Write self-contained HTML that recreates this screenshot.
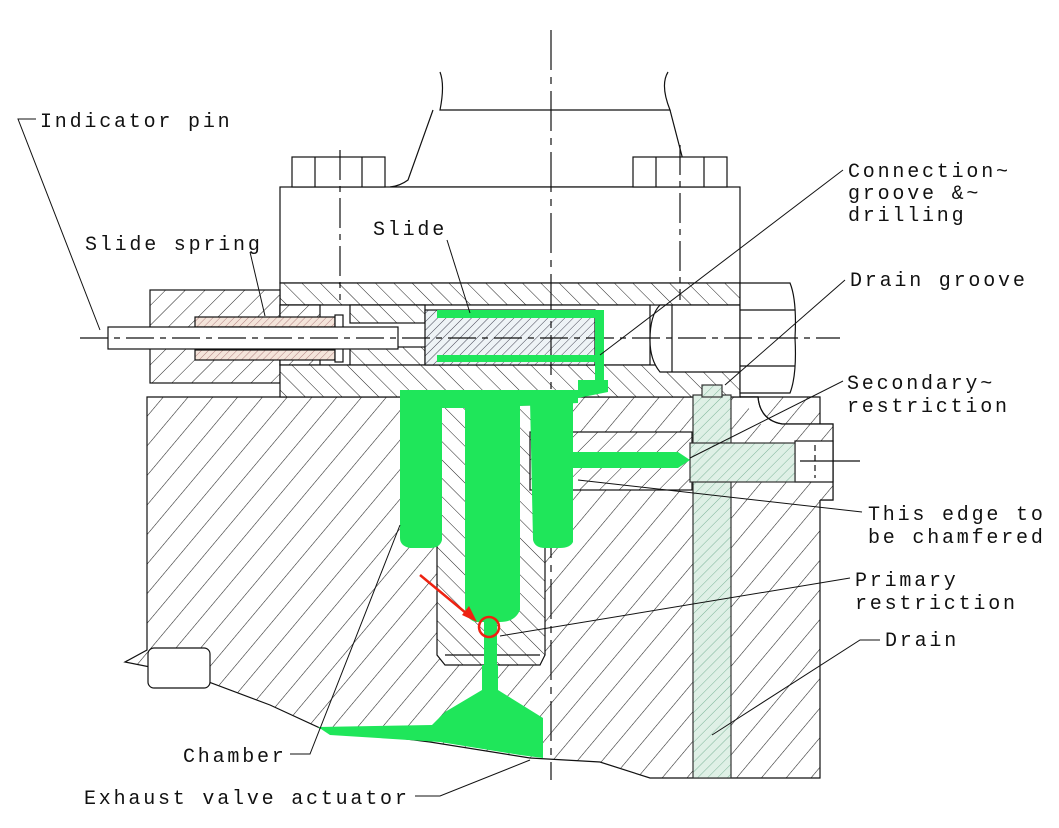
<!DOCTYPE html>
<html><head><meta charset="utf-8"><style>
html,body{margin:0;padding:0;background:#fff}
svg{display:block}
text{font-family:"Liberation Mono",monospace;font-size:20px;letter-spacing:2.8px;fill:#111}
</style></head><body>
<svg width="1059" height="828" viewBox="0 0 1059 828" xmlns="http://www.w3.org/2000/svg">
<defs>
<pattern id="hb" patternUnits="userSpaceOnUse" width="19" height="19" patternTransform="rotate(40)">
<rect width="19" height="19" fill="#fff"/><line x1="0" y1="0" x2="0" y2="19" stroke="#222" stroke-width="1.1"/></pattern>
<pattern id="hs" patternUnits="userSpaceOnUse" width="13" height="13" patternTransform="rotate(-45)">
<rect width="13" height="13" fill="#fff"/><line x1="0" y1="0" x2="0" y2="13" stroke="#222" stroke-width="1"/></pattern>
<pattern id="hr" patternUnits="userSpaceOnUse" width="14" height="14" patternTransform="rotate(45)">
<rect width="14" height="14" fill="#fff"/><line x1="0" y1="0" x2="0" y2="14" stroke="#222" stroke-width="1"/></pattern>
<pattern id="hd" patternUnits="userSpaceOnUse" width="7" height="7" patternTransform="rotate(45)">
<rect width="7" height="7" fill="#dff0e6"/><line x1="0" y1="0" x2="0" y2="7" stroke="#7fb59a" stroke-width="1"/></pattern>
<pattern id="hsl" patternUnits="userSpaceOnUse" width="6" height="6" patternTransform="rotate(45)">
<rect width="6" height="6" fill="#eef3f6"/><line x1="0" y1="0" x2="0" y2="6" stroke="#334" stroke-width="0.9"/></pattern>
<pattern id="hsp" patternUnits="userSpaceOnUse" width="5" height="5" patternTransform="rotate(45)">
<rect width="5" height="5" fill="#f4e4da"/><line x1="0" y1="0" x2="0" y2="5" stroke="#a77" stroke-width="0.9"/></pattern>
</defs>
<g stroke="#111" stroke-width="1.2" fill="none">
<path d="M147,397 L820,397 L820,778 L650,778 L600,762 L530,758 L430,742 L320,728 L270,705 L190,675 L125,662 L147,650 Z" fill="url(#hb)"/>
<rect x="148" y="648" width="62" height="40" rx="6" fill="#fff"/>
<path d="M740,397 L758,397 Q760,420 782,424 L833,424 L833,500 L820,500" fill="#fff"/>
<rect x="733" y="424" width="100" height="76" fill="url(#hb)" stroke="none"/>
<path d="M740,397 L758,397 Q760,420 782,424 L833,424 L833,500 L820,500"/>
<rect x="795" y="441" width="38" height="41" fill="#fff"/>
<line x1="815" y1="445" x2="815" y2="478" stroke-dasharray="6,4"/>
<line x1="800" y1="461" x2="860" y2="461"/>
<path d="M440,72 Q445,85 440,110 L670,110 Q660,85 668,72"/>
<path d="M433,110 L408,180 Q400,186 390,187 L690,187 L670,110"/>
<rect x="280" y="187" width="460" height="96" fill="#fff"/>
<rect x="292" y="157" width="93" height="30" fill="#fff"/>
<line x1="315" y1="157" x2="315" y2="187"/><line x1="362" y1="157" x2="362" y2="187"/>
<rect x="633" y="157" width="94" height="30" fill="#fff"/>
<line x1="656" y1="157" x2="656" y2="187"/><line x1="704" y1="157" x2="704" y2="187"/>
<rect x="280" y="283" width="460" height="22" fill="url(#hs)"/>
<rect x="150" y="290" width="130" height="93" fill="url(#hr)"/>
<rect x="280" y="305" width="370" height="60" fill="#fff"/>
<rect x="280" y="305" width="40" height="60" fill="url(#hr)"/>
<rect x="350" y="305" width="75" height="18" fill="url(#hs)"/>
<rect x="350" y="347" width="75" height="18" fill="url(#hs)"/>
<rect x="280" y="365" width="460" height="32" fill="url(#hs)"/>
<rect x="195" y="317" width="140" height="10" fill="url(#hsp)"/>
<rect x="195" y="350" width="140" height="10" fill="url(#hsp)"/>
<rect x="335" y="315" width="8" height="47" fill="#fff"/>
<rect x="108" y="327" width="290" height="22" fill="#fff"/>
<rect x="425" y="310" width="170" height="55" fill="url(#hsl)"/>
<path d="M660,305 L740,305 L740,372 L660,372 Q650,360 650,340 Q650,315 660,305 Z" fill="#fff"/>
<line x1="672" y1="305" x2="672" y2="372"/>
<path d="M740,283 L790,283 Q797,300 795,338 Q797,375 790,393 L740,393 Z" fill="#fff"/>
<line x1="740" y1="310" x2="795" y2="310"/><line x1="740" y1="366" x2="795" y2="366"/>
<line x1="80" y1="338" x2="840" y2="338" stroke-dasharray="28,6,6,6"/>
<line x1="551" y1="30" x2="551" y2="780" stroke-dasharray="40,7,7,7"/>
<line x1="340" y1="150" x2="340" y2="300" stroke-dasharray="30,6,6,6"/>
<line x1="680" y1="145" x2="680" y2="300" stroke-dasharray="30,6,6,6"/>
<path d="M437,405 L545,405 L545,655 L540,665 L445,665 L437,655 Z" fill="url(#hs)"/>
<line x1="445" y1="655" x2="540" y2="655"/>
<rect x="530" y="432" width="162" height="58" fill="url(#hr)"/>
<rect x="693" y="395" width="38" height="383" fill="url(#hd)" stroke="#333"/>
<rect x="690" y="443" width="105" height="39" fill="url(#hd)" stroke="#333"/>
<rect x="702" y="385" width="20" height="12" fill="url(#hd)" stroke="#333"/>
</g>
<g fill="#1fe65a">
<rect x="437" y="310" width="158" height="8"/>
<rect x="437" y="355" width="158" height="7"/>
<rect x="595" y="310" width="9" height="75"/>
<path d="M578,380 L608,380 L608,392 L578,398 Z"/>
<path d="M400,390 L578,390 L578,403 L520,406 L520,610 Q515,622 500,622 L475,622 Q465,618 465,608 L465,408 L442,408 L442,540 Q440,548 430,548 L410,548 Q400,546 400,538 Z"/>
<path d="M530,400 L573,400 L573,542 Q570,548 560,548 L545,548 Q535,548 533,540 Z"/>
<path d="M540,452 L678,452 L690,460 L678,468 L540,468 Z"/>
<rect x="484" y="622" width="13" height="45"/>
<path d="M482,665 L498,665 L498,690 L543,718 L543,758 L520,755 L440,742 L330,735 L318,727 L432,725 L445,712 L482,690 Z"/>
</g>
<line x1="420" y1="575" x2="472" y2="618" stroke="#e21" stroke-width="2.5"/>
<path d="M477,622 L462,615 L469,606 Z" fill="#e21"/>
<circle cx="489" cy="627" r="10" fill="none" stroke="#e21" stroke-width="2.5"/>
<g stroke="#111" stroke-width="1" fill="none">
<path d="M36,119 L18,119 L100,330"/>
<path d="M250,252 L265,316"/>
<path d="M447,240 L470,313"/>
<path d="M843,170 L600,355"/>
<path d="M845,280 L725,385"/>
<path d="M843,381 L690,458"/>
<path d="M862,512 L578,480"/>
<path d="M850,578 L500,636"/>
<path d="M880,640 L860,640 L712,735"/>
<path d="M290,754 L310,754 L400,525"/>
<path d="M415,796 L440,796 L530,760"/>
</g>
<text x="40" y="127">Indicator pin</text>
<text x="85" y="250">Slide spring</text>
<text x="373" y="235">Slide</text>
<text x="848" y="177">Connection~</text>
<text x="848" y="199">groove &amp;~</text>
<text x="848" y="221">drilling</text>
<text x="850" y="286">Drain groove</text>
<text x="847" y="389">Secondary~</text>
<text x="847" y="412">restriction</text>
<text x="868" y="520">This edge to</text>
<text x="868" y="543">be chamfered</text>
<text x="855" y="586">Primary</text>
<text x="855" y="609">restriction</text>
<text x="885" y="646">Drain</text>
<text x="183" y="762">Chamber</text>
<text x="84" y="804">Exhaust valve actuator</text>
</svg>
</body></html>
